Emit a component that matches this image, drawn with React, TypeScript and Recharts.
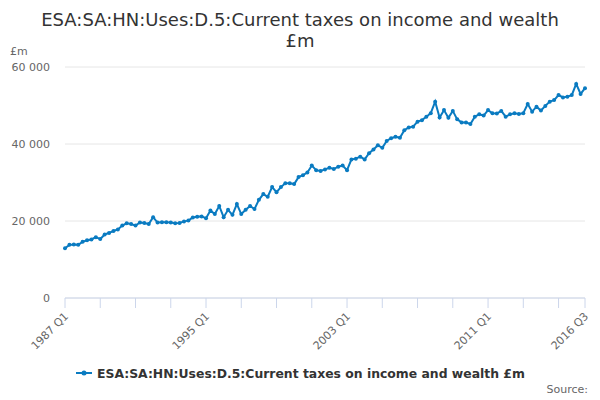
import { CartesianGrid, Line, LineChart, XAxis, YAxis } from "recharts";

const seriesName = "ESA:SA:HN:Uses:D.5:Current taxes on income and wealth £m";
const color = "#0a7bc1";
const font = "'DejaVu Sans', sans-serif";

// £m, quarterly from 1987 Q1 to 2016 Q3
const taxes = [
  12900, 13800, 13900, 13800, 14600, 15000, 15200, 15800, 15300, 16500,
  16900, 17400, 17800, 18800, 19400, 19200, 18800, 19600, 19500, 19200,
  21000, 19600, 19700, 19700, 19600, 19400, 19500, 19900, 20100, 20900,
  21100, 21200, 20700, 22700, 21800, 23900, 21000, 22900, 21600, 24400,
  21800, 22900, 23900, 23100, 25500, 27000, 26300, 28800, 27500, 28800,
  29800, 29800, 29600, 31400, 31900, 32600, 34400, 33200, 33000, 33400,
  33800, 33500, 34100, 34400, 33200, 36000, 36200, 36700, 36000, 37600,
  38600, 39700, 39000, 40800, 41500, 41900, 41600, 43600, 44300, 44500,
  45800, 46200, 47100, 48000, 51000, 46900, 48800, 46800, 48600, 46400,
  45600, 45600, 45200, 47100, 47700, 47400, 48800, 48000, 47900, 48600,
  47100, 47700, 48000, 47800, 48000, 50400, 48400, 49700, 48700, 49900,
  51000, 51400, 52700, 52100, 52300, 52700, 55600, 53000, 54500,
];

const startYear = 1987;
const quarters = taxes.map((_, i) => `${startYear + Math.floor(i / 4)} Q${(i % 4) + 1}`);

const tickQuarters = [
  "1987 Q1", "1989 Q1", "1991 Q1", "1993 Q1", "1995 Q1", "1997 Q1", "1999 Q1", "2001 Q1",
  "2003 Q1", "2005 Q1", "2007 Q1", "2009 Q1", "2011 Q1", "2013 Q1", "2015 Q1", "2016 Q3",
];
const labelQuarters = ["1987 Q1", "1995 Q1", "2003 Q1", "2011 Q1", "2016 Q3"];
const yTicks = [0, 20000, 40000, 60000];

const data = quarters.map((q, i) => ({ q, v: taxes[i] }));

function QuarterTick({ x, y, payload }: any) {
  if (!labelQuarters.includes(payload.value)) return <g />;
  const ax = x + 4;
  const ay = y + 7;
  return (
    <text
      x={ax}
      y={ay}
      transform={`rotate(-45 ${ax} ${ay})`}
      textAnchor="end"
      fill="#666666"
      fontSize={11}
      fontFamily={font}
    >
      {payload.value}
    </text>
  );
}

export default function App() {
  return (
    <div style={{ position: "absolute", left: 0, top: 0, width: 600, height: 400, fontFamily: font, background: "#fff" }}>
      <div
        style={{
          position: "absolute",
          top: 9,
          left: 0,
          width: 600,
          textAlign: "center",
          fontSize: 18,
          lineHeight: "21px",
          color: "#333333",
        }}
      >
        ESA:SA:HN:Uses:D.5:Current taxes on income and wealth
        <br />
        £m
      </div>
      <div style={{ position: "absolute", top: 45, left: 10, fontSize: 11, color: "#666666" }}>£m</div>

      <LineChart width={600} height={400} data={data} margin={{ top: 67, right: 15, bottom: 62, left: 0 }}>
        <CartesianGrid vertical={false} stroke="#e6e6e6" />
        <XAxis
          dataKey="q"
          ticks={tickQuarters}
          interval={0}
          height={40}
          tick={<QuarterTick />}
          tickSize={10}
          tickLine={{ stroke: "#ccd6eb" }}
          axisLine={{ stroke: "#ccd6eb" }}
        />
        <YAxis
          domain={[0, 60000]}
          ticks={yTicks}
          width={65}
          axisLine={false}
          tickLine={false}
          tickSize={0}
          tickMargin={15}
          tick={{ fill: "#666666", fontSize: 11, fontFamily: font }}
          tickFormatter={(v: number) => String(v).replace(/\B(?=(\d{3})+(?!\d))/g, " ")}
        />
        <Line
          type="linear"
          dataKey="v"
          name={seriesName}
          stroke={color}
          strokeWidth={2}
          dot={{ r: 2, fill: color, stroke: color, strokeWidth: 0 }}
          isAnimationActive={false}
        />
      </LineChart>

      <div style={{ position: "absolute", top: 365, left: 76, display: "flex", alignItems: "center" }}>
        <svg width={16} height={16}>
          <line x1={0} y1={8} x2={16} y2={8} stroke={color} strokeWidth={2} />
          <circle cx={8} cy={8} r={2.5} fill={color} />
        </svg>
        <span style={{ marginLeft: 5, fontSize: 12.4, fontWeight: "bold", color: "#333333" }}>{seriesName}</span>
      </div>
      <div style={{ position: "absolute", top: 383, right: 12, fontSize: 11, color: "#666666" }}>Source:</div>
    </div>
  );
}
